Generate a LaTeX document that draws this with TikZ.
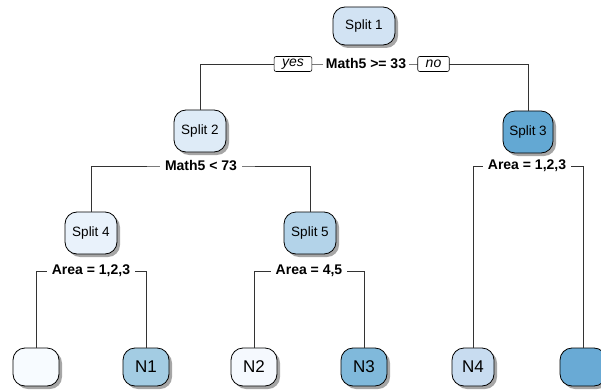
\documentclass[tikz,border=0pt]{standalone}
\usepackage{fontspec}
\setmainfont{Liberation Sans}
\usetikzlibrary{shadows}

\definecolor{fillA}{HTML}{D2E3F3}
\definecolor{fillB}{HTML}{DEEBF7}
\definecolor{fillC}{HTML}{63A8D3}
\definecolor{fillD}{HTML}{E9F2FB}
\definecolor{fillE}{HTML}{B3D3E9}
\definecolor{leafA}{HTML}{F7FBFF}
\definecolor{leafB}{HTML}{A3CCE3}
\definecolor{leafC}{HTML}{F5F9FE}
\definecolor{leafD}{HTML}{80B9DB}
\definecolor{leafE}{HTML}{C8DCF0}
\definecolor{leafF}{HTML}{69AAD5}

\tikzset{
    splitbox/.style={draw, line width=0.8pt, rounded corners=12pt,
        minimum width=52pt, minimum height=42pt, inner sep=0pt,
        font=\fontsize{13.5}{15}\selectfont,
        drop shadow={shadow xshift=3pt, shadow yshift=-3pt, fill=black, opacity=0.35}},
    leafbox/.style={splitbox, minimum width=46pt, minimum height=38pt,
        font=\fontsize{17}{19}\selectfont},
    rule/.style={fill=white, inner xsep=5pt, inner ysep=1pt,
        font=\bfseries\fontsize{14}{16}\selectfont},
    answer/.style={draw, line width=0.6pt, fill=white, rounded corners=2pt,
        minimum height=15pt, inner xsep=8pt, inner ysep=0pt,
        font=\itshape\fontsize{14}{16}\selectfont},
    branch/.style={line width=0.9pt, draw=black!80}
}

\begin{document}
\begin{tikzpicture}[x=1pt, y=-1pt]

\useasboundingbox (0,0) rectangle (601,390);

% Splits
\node[splitbox, fill=fillA, minimum width=62pt, minimum height=38pt] (split1) at (364,26) {Split 1};
\node[splitbox, fill=fillB] (split2) at (200,131) {Split 2};
\node[splitbox, fill=fillC, minimum width=50pt] (split3) at (528,132) {Split 3};
\node[splitbox, fill=fillD] (split4) at (91,233) {Split 4};
\node[splitbox, fill=fillE] (split5) at (310,233) {Split 5};

% Leaves
\node[leafbox, fill=leafA] (leaf1) at (36,367) {};
\node[leafbox, fill=leafB] (leaf2) at (146,367) {N1};
\node[leafbox, fill=leafC] (leaf3) at (254,367) {N2};
\node[leafbox, fill=leafD] (leaf4) at (364,367) {N3};
\node[leafbox, fill=leafE, minimum width=42pt] (leaf5) at (473,367) {N4};
\node[leafbox, fill=leafF] (leaf6) at (583,367) {};

% Branch rows
\coordinate (row1) at (366,64);
\coordinate (row2) at (201,166);
\coordinate (row3) at (527,166);
\coordinate (row4) at (91,271);
\coordinate (row5) at (309,271);

\draw[branch] (split2.north) |- (row1) -| (split3.north);
\draw[branch] (split4.north) |- (row2) -| (split5.north);
\draw[branch] (leaf5.north) |- (row3) -| (leaf6.north);
\draw[branch] (leaf1.north) |- (row4) -| (leaf2.north);
\draw[branch] (leaf3.north) |- (row5) -| (leaf4.north);

% Rules
\node[rule, inner xsep=3pt] (rule1) at (row1) {Math5 >= 33};
\node[answer] (yes) at (293,64) {yes};
\node[answer] (no) at (433.5,64) {no};
\node[rule] (rule2) at (row2) {Math5 < 73};
\node[rule] (rule3) at (row3) {Area = 1,2,3};
\node[rule] (rule4) at (row4) {Area = 1,2,3};
\node[rule] (rule5) at (row5) {Area = 4,5};

\end{tikzpicture}
\end{document}
